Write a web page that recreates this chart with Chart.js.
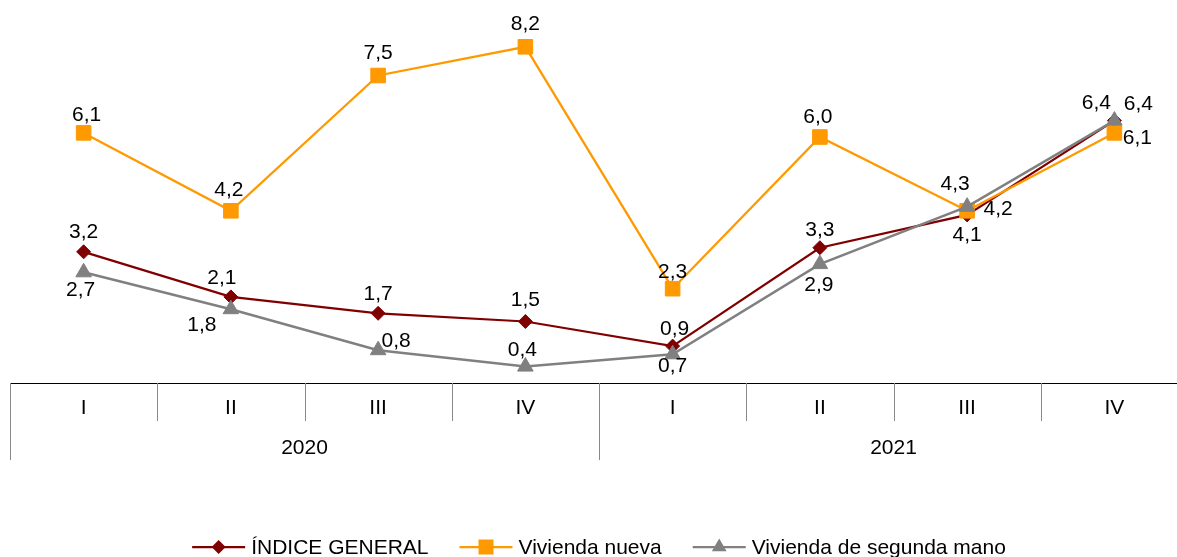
<!DOCTYPE html>
<html><head><meta charset="utf-8">
<script src="https://cdn.jsdelivr.net/npm/chart.js@4.4.1/dist/chart.umd.min.js"></script>
<style>html,body{margin:0;padding:0;overflow:hidden;background:#fff;width:1177px;height:557px}#wrap{position:absolute;left:0;top:0;width:1190px;height:557px}canvas{display:block}</style>
</head><body><div id="wrap"><canvas id="c"></canvas></div>
<script>
// ---- data ----
const quarters = ['I','II','III','IV','I','II','III','IV'];
const years = ['2020','2021'];
const seriesNames = ['ÍNDICE GENERAL','Vivienda nueva','Vivienda de segunda mano'];
const indiceGeneral = [3.2,2.1,1.7,1.5,0.9,3.3,4.1,6.4];
const viviendaNueva = [6.1,4.2,7.5,8.2,2.3,6.0,4.2,6.1];
const viviendaSegunda = [2.7,1.8,0.8,0.4,0.7,2.9,4.3,6.4];

// ---- label placement (pixel offsets from each point) ----
const offGeneral = [[0,-20],[-9,-19],[0,-19],[0,-21],[2,-17],[0,-17],[0,20],[-18,-17]];
const offNueva = [[3,-18],[-2,-21],[0,-22],[0,-23],[0,-16],[-2,-20],[31,-2],[23,5]];
const offSegunda = [[-3,18],[-29,16],[18,-9],[-3,-16],[0,12],[-1,21],[-12,-22],[24,-16]];

const colors = ['#800000','#FF9900','#808080'];
const styles = ['rectRot','rect','triangle'];
const FONT = '21px "Liberation Sans", Arial, sans-serif';

function fmt(v){ return v.toFixed(1).replace('.', ','); }

function drawMarker(ctx, style, x, y, color){
  ctx.save();
  ctx.fillStyle = color;
  ctx.beginPath();
  if (style === 'rectRot') {
    const r = 7;
    ctx.moveTo(x, y - r); ctx.lineTo(x + r, y); ctx.lineTo(x, y + r); ctx.lineTo(x - r, y);
  } else if (style === 'rect') {
    const s = 7.5;
    ctx.rect(x - s, y - s, 2 * s, 2 * s);
  } else {
    const r = 8.5;
    ctx.moveTo(x, y - r);
    ctx.lineTo(x + r * Math.sin(2*Math.PI/3), y - r * Math.cos(2*Math.PI/3));
    ctx.lineTo(x + r * Math.sin(4*Math.PI/3), y - r * Math.cos(4*Math.PI/3));
  }
  ctx.closePath();
  ctx.fill();
  ctx.restore();
}

const labelsPlugin = {
  id: 'pointLabels',
  afterDatasetsDraw(chart) {
    const ctx = chart.ctx;
    const offs = [offGeneral, offNueva, offSegunda];
    ctx.save();
    ctx.font = FONT;
    ctx.fillStyle = '#000';
    ctx.textAlign = 'center';
    ctx.textBaseline = 'middle';
    chart.data.datasets.forEach((ds, di) => {
      const meta = chart.getDatasetMeta(di);
      meta.data.forEach((pt, i) => {
        const o = offs[di][i];
        ctx.fillText(fmt(ds.data[i]), pt.x + o[0], pt.y + o[1]);
      });
    });
    ctx.restore();
  }
};

const axisPlugin = {
  id: 'groupAxis',
  afterDraw(chart) {
    const ctx = chart.ctx;
    const xs = chart.scales.x;
    const area = chart.chartArea;
    const y0 = area.bottom;
    const n = quarters.length;
    const w = (xs.getPixelForValue(1) - xs.getPixelForValue(0));
    const left = xs.getPixelForValue(0) - w / 2;
    ctx.save();
    // axis line
    ctx.strokeStyle = '#000';
    ctx.lineWidth = 1;
    ctx.beginPath();
    ctx.moveTo(left, Math.round(y0) + 0.5);
    ctx.lineTo(chart.width, Math.round(y0) + 0.5);
    ctx.stroke();
    // separators
    ctx.strokeStyle = '#888';
    for (let i = 0; i <= n; i++) {
      const x = Math.round(left + i * w) + 0.5;
      const long = (i % 4 === 0);
      ctx.beginPath();
      ctx.moveTo(x, y0);
      ctx.lineTo(x, y0 + (long ? 77 : 38));
      ctx.stroke();
    }
    // labels
    ctx.font = FONT;
    ctx.fillStyle = '#000';
    ctx.textAlign = 'center';
    ctx.textBaseline = 'middle';
    quarters.forEach((q, i) => ctx.fillText(q, xs.getPixelForValue(i), y0 + 25));
    years.forEach((yv, g) => {
      const cx = (xs.getPixelForValue(g * 4) + xs.getPixelForValue(g * 4 + 3)) / 2;
      ctx.fillText(yv, cx, y0 + 65);
    });
    // legend
    const lineLen = 53, gapText = 6, gapItem = 31;
    const widths = seriesNames.map(s => ctx.measureText(s).width);
    const total = widths.reduce((a, b) => a + b, 0) + seriesNames.length * (lineLen + gapText) + gapItem * (seriesNames.length - 1);
    let x = 599 - total / 2;
    const ly = 547;
    ctx.textAlign = 'left';
    seriesNames.forEach((s, i) => {
      ctx.strokeStyle = colors[i];
      ctx.lineWidth = 2.25;
      ctx.beginPath();
      ctx.moveTo(x, ly); ctx.lineTo(x + lineLen, ly); ctx.stroke();
      drawMarker(ctx, styles[i], x + lineLen / 2, ly, colors[i]);
      ctx.fillStyle = '#000';
      ctx.fillText(s, x + lineLen + gapText, ly + 1);
      x += lineLen + gapText + widths[i] + gapItem;
    });
    ctx.restore();
  }
};

function ds(label, data, i, radius, bw, order) {
  return {
    label, data,
    borderColor: colors[i], backgroundColor: colors[i],
    pointBackgroundColor: colors[i], pointBorderColor: colors[i],
    pointStyle: styles[i], pointRadius: radius, pointBorderWidth: 1,
    borderWidth: bw, tension: 0, order, clip: false
  };
}

new Chart(document.getElementById('c'), {
  type: 'line',
  data: {
    labels: quarters.map((q, i) => i),
    datasets: [
      ds(seriesNames[0], indiceGeneral, 0, 7, 2.25, 2),
      ds(seriesNames[1], viviendaNueva, 1, 10.3, 2.25, 1),
      ds(seriesNames[2], viviendaSegunda, 2, 9, 2.5, 0)
    ]
  },
  options: {
    responsive: true,
    maintainAspectRatio: false,
    animation: false,
    layout: { autoPadding: false, padding: { top: 14, left: 10, right: 2, bottom: 0 } },
    plugins: { legend: { display: false }, tooltip: { enabled: false } },
    scales: {
      x: {
        type: 'category',
        offset: true,
        grid: { display: false },
        border: { display: false },
        ticks: { display: false },
        afterFit(scale) { scale.height = 174; }
      },
      y: { display: false, min: 0, max: 9 }
    }
  },
  plugins: [labelsPlugin, axisPlugin]
});
</script>
</body></html>
